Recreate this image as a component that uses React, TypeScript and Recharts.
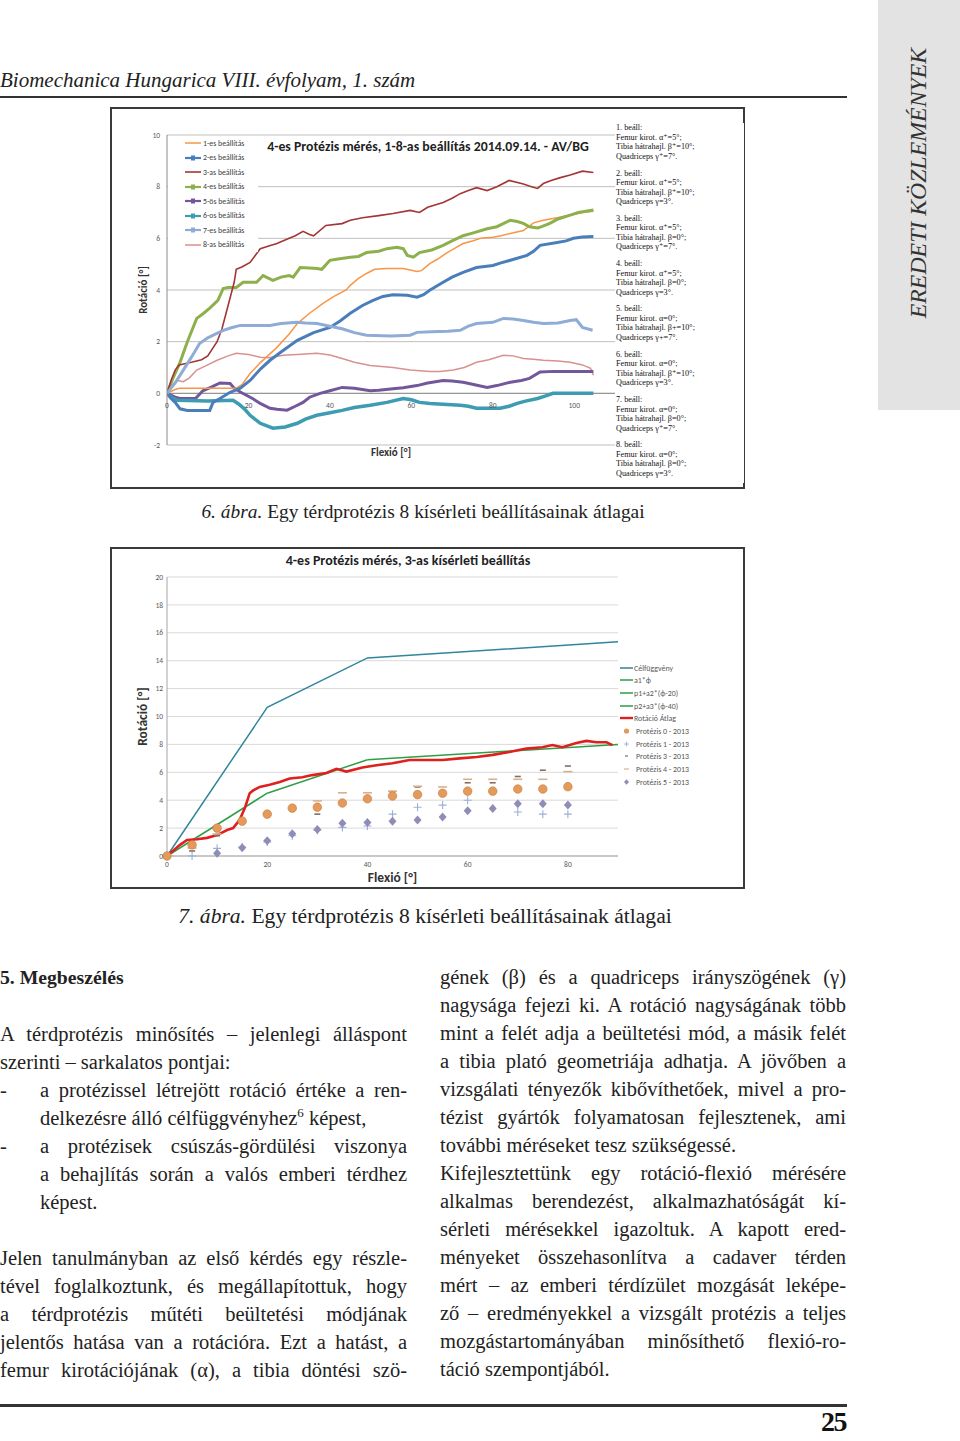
import React from 'react'
import { LineChart, Line, XAxis, YAxis, CartesianGrid, ReferenceLine, ComposedChart, Scatter } from 'recharts'

type Pont = [number, number]

// 6. abra - 8 beallitas atlaga (flexio [°], rotacio [°])
const beall1: Pont[] = [[0,0],[2,0.15],[3,0.2],[10,0.2],[17,0.2],[18.5,0.35],[20.4,0.77],[23,1.2],[27,1.78],[30,2.3],[32,2.7],[35,3.1],[38.3,3.48],[41,3.75],[44,4.0],[45,4.18],[47,4.45],[49,4.64],[51,4.8],[54,4.83],[58,4.83],[61.4,4.72],[62.5,4.75],[64.6,5.03],[66.5,5.2],[68.8,5.45],[70.5,5.6],[72.7,5.8],[75,5.9],[77,6.0],[80,6.04],[82,6.1],[84.3,6.19],[87.5,6.3],[90,6.6],[92.4,6.7],[95.8,6.8],[99,6.9],[102,7.0],[104.7,7.05]]
const beall2: Pont[] = [[0,0],[1,-0.2],[2,-0.35],[3.2,-0.6],[5,-0.66],[10.5,-0.66],[11.3,-0.35],[13,-0.2],[15.5,0.04],[18,0.2],[20.4,0.5],[23,0.95],[25.3,1.28],[28,1.6],[32,2.05],[36,2.35],[40,2.55],[42.5,2.8],[45,3.1],[48,3.4],[50.6,3.6],[53,3.75],[55.5,3.82],[59,3.8],[61.4,3.72],[63,3.82],[64.6,4.0],[67.8,4.3],[70,4.5],[72.7,4.68],[76,4.87],[80,4.95],[82,5.05],[84.3,5.15],[88.4,5.34],[90,5.5],[91.6,5.73],[95.8,5.84],[98,5.9],[99.8,6.0],[102,6.05],[104.7,6.07]]
const beall3: Pont[] = [[0,0],[1,0.5],[2,0.9],[3,1.1],[6,1.2],[8.5,1.3],[10,1.45],[12.3,2.0],[13.5,2.5],[14.5,3.1],[15.5,3.7],[16.5,4.3],[17,4.8],[18.5,4.9],[20.4,5.07],[22.9,5.6],[25,5.7],[27,5.8],[30,6.0],[31.5,6.1],[33.4,6.27],[35,6.15],[36,6.1],[39,6.5],[43,6.57],[45,6.7],[48,6.8],[52,6.88],[55.5,6.96],[59.7,7.08],[62,7.0],[64,7.2],[67.8,7.39],[70,7.55],[72,7.73],[74,7.85],[76,7.96],[78.6,7.85],[81,8.0],[84,8.24],[87.5,8.1],[89.5,8.0],[91,7.93],[92.4,8.12],[94.5,8.25],[96.6,8.35],[99,8.45],[102,8.6],[104.7,8.55]]
const beall4: Pont[] = [[0,0],[1.5,0.6],[3.2,1.2],[5,2.0],[7.3,2.9],[9,3.1],[10.5,3.3],[12.5,3.6],[13.8,4.06],[15,4.1],[17,4.1],[18.7,4.3],[22,4.3],[23.6,4.56],[25,4.45],[26,4.37],[28,4.5],[30,4.56],[31,4.5],[32.7,4.87],[35,4.85],[36.8,4.83],[38,4.8],[40,5.15],[42,5.2],[45,5.27],[47,5.3],[49,5.45],[52,5.5],[54,5.6],[56.5,5.65],[58,5.6],[59,5.34],[60.5,5.27],[62,5.45],[65,5.55],[67.8,5.73],[70,5.9],[72.7,6.1],[75,6.2],[78.6,6.37],[81,6.45],[84.3,6.7],[86,6.65],[87.5,6.58],[89,6.45],[91,6.4],[92,6.45],[94,6.58],[96,6.75],[99,6.9],[101,7.0],[104.7,7.1]]
const beall5: Pont[] = [[0,0],[2,-0.15],[3.2,-0.2],[7,-0.2],[8.8,0.1],[11,0.25],[13,0.4],[15.5,0.38],[16.5,0.2],[18,0.05],[21,-0.2],[23,-0.4],[25.3,-0.58],[27,-0.62],[29.5,-0.65],[31.5,-0.5],[33.4,-0.35],[35,-0.15],[37.6,0.0],[40,0.1],[43,0.23],[46,0.2],[49.9,0.1],[52,0.12],[55.5,0.18],[58,0.22],[61.4,0.3],[64,0.4],[67.8,0.5],[70,0.48],[72.7,0.43],[75,0.35],[78.6,0.23],[81,0.3],[84.3,0.43],[87,0.5],[89,0.58],[91.6,0.83],[95,0.85],[100,0.85],[104.7,0.85]]
const beall6: Pont[] = [[0,0],[1,-0.15],[2.5,-0.27],[10,-0.3],[16.2,-0.27],[17.5,-0.4],[19,-0.6],[20.4,-0.85],[22.9,-1.16],[26,-1.35],[29,-1.3],[32,-1.16],[34,-1.0],[36.8,-0.85],[40,-0.75],[43,-0.66],[46,-0.55],[49.9,-0.46],[54,-0.35],[58,-0.2],[60,-0.25],[62,-0.35],[64.6,-0.39],[72,-0.46],[74,-0.5],[76,-0.58],[81.8,-0.58],[84,-0.5],[86,-0.39],[88,-0.3],[91,-0.2],[93,-0.1],[94.8,0],[104.7,0]]
const beall7: Pont[] = [[0,0],[2,0.4],[4,0.9],[6,1.4],[8,1.93],[10,2.15],[12,2.3],[13.8,2.44],[16,2.55],[18,2.63],[25.3,2.63],[28,2.7],[32,2.75],[34,2.72],[36.8,2.7],[40,2.6],[43,2.5],[46,2.35],[49,2.25],[55,2.22],[59.7,2.25],[61.4,2.36],[65,2.38],[69,2.4],[72,2.44],[74,2.6],[76,2.7],[80,2.75],[82.6,2.9],[85,2.88],[87.5,2.82],[90,2.75],[92.4,2.7],[96,2.72],[99,2.82],[100.5,2.85],[102,2.55],[104.5,2.44]]
const beall8: Pont[] = [[0,0],[1.5,0.35],[2.5,0.5],[4,0.45],[5.5,0.6],[7.3,0.9],[10,1.1],[12.3,1.28],[15,1.45],[17,1.55],[20,1.5],[22.9,1.4],[25,1.38],[28.5,1.47],[32,1.5],[36.8,1.55],[40,1.48],[43,1.35],[46,1.2],[49.9,1.08],[55.5,1.0],[59.7,0.9],[64.6,0.85],[67,0.85],[70.3,0.9],[73,1.0],[76,1.2],[79,1.3],[82.6,1.47],[85,1.45],[87.5,1.35],[90,1.32],[92.4,1.28],[96,1.25],[99,1.2],[102,1.1],[104,0.97],[104.7,0.7]]
const beallitasNevek = ['1-es beállítás', '2-es beállítás', '3-as beállítás', '4-es beállítás', '5-ös beállítás', '6-os beállítás', '7-es beállítás', '8-as beállítás']
const flexioTicks1 = [0, 20, 40, 60, 80, 100]
const rotacioTicks1 = [-2, 0, 2, 4, 6, 8, 10]

// 7. abra - 3-as kiserleti beallitas
const celfuggveny: Pont[] = [[0,0],[20,10.65],[40,14.2],[90,15.35]]
const a1Szakasz: Pont[] = [[0,0],[20,4.5]]
const p1Szakasz: Pont[] = [[20,4.5],[40,6.9]]
const p2Szakasz: Pont[] = [[40,6.9],[90,8.0]]
const rotacioAtlag: Pont[] = [[0,0],[2.6,0.8],[4,1.15],[6,1.2],[8,1.3],[10,1.5],[12,1.86],[13.2,2.0],[14.5,2.6],[15.6,3.5],[16.5,4.5],[17.2,4.7],[18.5,4.95],[20.5,5.1],[22.5,5.3],[24.5,5.55],[27,5.65],[29,5.8],[31.8,5.95],[33.8,6.25],[35.8,6.05],[39,6.35],[41.8,6.5],[45,6.65],[48.4,6.88],[51.8,6.88],[55,6.88],[58.4,7.0],[61.8,7.1],[65,7.25],[68.3,7.45],[71.7,7.7],[74.9,7.8],[76.9,7.95],[78.9,7.8],[81.7,8.1],[83.7,8.25],[85.7,8.15],[87.7,8.15],[88.9,7.95]]
const flexioLepes = [0, 5, 10, 15, 20, 25, 30, 35, 40, 45, 50, 55, 60, 65, 70, 75, 80]
const protezis0 = [0, 0.8, 2.0, 2.5, 3.0, 3.43, 3.5, 3.8, 4.1, 4.3, 4.4, 4.5, 4.65, 4.65, 4.8, 4.8, 4.97]
const protezis1 = [0, 0.0, 0.55, 0.65, 1.0, 1.45, 1.85, 2.05, 2.15, 3.0, 3.5, 3.65, 4.0, null, 3.15, 3.0, 3.0]
const protezis3 = [null, 0.36, 1.45, null, null, null, 3.0, null, null, 4.6, 4.95, null, 5.25, 5.25, 5.7, 6.15, 6.45]
const protezis4 = [null, 0.57, 1.58, null, null, null, 3.95, 4.53, 4.53, 4.65, 5.0, 4.95, 5.5, 5.5, 5.5, 5.5, 6.05]
const protezis5 = [0, null, 0.2, 0.6, 1.1, 1.6, 1.9, 2.35, 2.4, 2.5, 2.58, 2.8, 3.25, 3.4, 3.75, 3.75, 3.65]
const flexioTicks2 = [0, 20, 40, 60, 80]
const rotacioTicks2 = [0, 2, 4, 6, 8, 10, 12, 14, 16, 18, 20]

const pts = (p: Pont[]) => p.map(([x, y]) => ({ x, y }))
const lepesek = (ys: (number | null)[]) =>
  flexioLepes.map((x, i) => ({ x, y: ys[i] })).filter(d => d.y !== null)

const SANS = "Carlito, 'Liberation Sans', Arial, sans-serif"
const SERIF = "'Liberation Serif', 'DejaVu Serif', serif"

const stilus1 = [
  { c: '#F79646', w: 1.5 },
  { c: '#4A7EBB', w: 3 },
  { c: '#A33634', w: 1.6 },
  { c: '#8DB04C', w: 3 },
  { c: '#72589B', w: 3 },
  { c: '#3D9CB2', w: 3.5 },
  { c: '#8EACD6', w: 3 },
  { c: '#D9918F', w: 1.5 },
]
const beallitasok = [beall1, beall2, beall3, beall4, beall5, beall6, beall7, beall8]

// chart 1 geometry
const W1 = 631, H1 = 378
const M1 = { top: 26, right: 128, bottom: 0, left: 25 }
const XH1 = 42
const Y1_MIN = -2, Y1_MAX = 10
const PLOT1_H = H1 - M1.top - XH1
const zeroOffset1 = PLOT1_H * (0 - Y1_MIN) / (Y1_MAX - Y1_MIN)

const FlexTick1 = (props: any) => {
  const { x, y, payload } = props
  return (
    <text x={x} y={y - zeroOffset1 + 13} textAnchor="middle" fontSize={7.5} fill="#595959" fontFamily={SANS}>
      {payload.value}
    </text>
  )
}

const Kor = (p: any) => <circle cx={p.cx} cy={p.cy} r={4.3} fill="#E39A5B" stroke="#C97B3C" strokeWidth={0.6} />
const Plusz = (p: any) => <path d={`M${p.cx - 4},${p.cy}h8M${p.cx},${p.cy - 4}v8`} stroke="#9AB0D6" strokeWidth={1.1} />
const SotetVonal = (p: any) => <line x1={p.cx - 3} x2={p.cx + 3} y1={p.cy} y2={p.cy} stroke="#7F6F66" strokeWidth={1.6} />
const VilagosVonal = (p: any) => <line x1={p.cx - 4.5} x2={p.cx + 4.5} y1={p.cy} y2={p.cy} stroke="#D7B08F" strokeWidth={1.6} />
const Gyemant = (p: any) => <polygon points={`${p.cx},${p.cy - 4.5} ${p.cx + 4},${p.cy} ${p.cx},${p.cy + 4.5} ${p.cx - 4},${p.cy}`} fill="#8F8DB7" />

const legend2 = [
  { n: 'Célfüggvény', t: 'line', c: '#31859C' },
  { n: 'a1*ϕ', t: 'line', c: '#2E9E45' },
  { n: 'p1+a2*(ϕ-20)', t: 'line', c: '#2E9E45' },
  { n: 'p2+a3*(ϕ-40)', t: 'line', c: '#2E9E45' },
  { n: 'Rotáció Átlag', t: 'line', c: '#E0201F' },
  { n: 'Protézis 0 - 2013', t: 'kor', c: '#E39A5B' },
  { n: 'Protézis 1 - 2013', t: 'plusz', c: '#9AB0D6' },
  { n: 'Protézis 3 - 2013', t: 'sotet', c: '#7F6F66' },
  { n: 'Protézis 4 - 2013', t: 'vilagos', c: '#D7B08F' },
  { n: 'Protézis 5 - 2013', t: 'gyemant', c: '#8F8DB7' },
]

const beallSzoveg = [
  ['1. beáll:', 'Femur kirot. α⁺=5°;', 'Tibia hátrahajl. β⁺=10°;', 'Quadriceps γ⁺=7°.'],
  ['2. beáll:', 'Femur kirot. α⁺=5°;', 'Tibia hátrahajl. β⁺=10°;', 'Quadriceps γ=3°.'],
  ['3. beáll:', 'Femur kirot. α⁺=5°;', 'Tibia hátrahajl. β=0°;', 'Quadriceps γ⁺=7°.'],
  ['4. beáll:', 'Femur kirot. α⁺=5°;', 'Tibia hátrahajl. β=0°;', 'Quadriceps γ=3°.'],
  ['5. beáll:', 'Femur kirot. α=0°;', 'Tibia hátrahajl. β+=10°;', 'Quadriceps γ+=7°.'],
  ['6. beáll:', 'Femur kirot. α=0°;', 'Tibia hátrahajl. β⁺=10°;', 'Quadriceps γ=3°.'],
  ['7. beáll:', 'Femur kirot. α=0°;', 'Tibia hátrahajl. β=0°;', 'Quadriceps γ⁺=7°.'],
  ['8. beáll:', 'Femur kirot. α=0°;', 'Tibia hátrahajl. β=0°;', 'Quadriceps γ=3°.'],
]

const abs = (left: number, top: number, extra: React.CSSProperties = {}): React.CSSProperties => ({ position: 'absolute', left, top, ...extra })

const BODY_FS = 20.5

// one printed text line, justified if asked
const Sor = ({ x, y, w, j = true, children }: { x: number, y: number, w: number, j?: boolean, children: React.ReactNode }) => (
  <div style={abs(x, y - 14, { width: w, height: 28, lineHeight: '28px', fontSize: BODY_FS, textAlign: j ? 'justify' : 'left', textAlignLast: j ? 'justify' : 'left', color: '#222' })}>
    {children}
  </div>
)

const Chart1 = () => (
  <LineChart width={W1} height={H1} margin={M1}>
    <CartesianGrid vertical={false} stroke="#BFBFBF" />
    <XAxis dataKey="x" type="number" domain={[0, 110]} ticks={flexioTicks1} axisLine={false} tickLine={false} tickSize={0} height={XH1}
      tick={FlexTick1} allowDataOverflow
      label={{ value: 'Flexió [°]', position: 'insideTop', offset: 3, style: { fontSize: 11, fontWeight: 700, fill: '#333', fontFamily: SANS } }} />
    <YAxis type="number" domain={[Y1_MIN, Y1_MAX]} ticks={rotacioTicks1} width={30} axisLine={{ stroke: '#8C8C8C' }} tickLine={false} tickSize={0} tickMargin={7}
      tick={{ fontSize: 7.5, fill: '#595959', fontFamily: SANS }}
      label={{ value: 'Rotáció [°]', angle: -90, position: 'insideLeft', offset: 6, style: { textAnchor: 'middle', fontSize: 11, fontWeight: 700, fill: '#333', fontFamily: SANS } }} />
    <ReferenceLine y={0} stroke="#8C8C8C" />
    {[7, 4, 5, 0, 1, 3, 2, 6].map(i => (
      <Line key={i} data={pts(beallitasok[i])} dataKey="y" type="linear" stroke={stilus1[i].c} strokeWidth={stilus1[i].w}
        dot={false} isAnimationActive={false} />
    ))}
  </LineChart>
)

const Chart2 = () => (
  <ComposedChart width={631} height={338} margin={{ top: 28, right: 125, bottom: 0, left: 25 }}>
    <CartesianGrid vertical={false} stroke="#D9D9D9" />
    <XAxis dataKey="x" type="number" domain={[0, 90]} ticks={flexioTicks2} height={31} axisLine={{ stroke: '#A6A6A6' }} tickLine={false} tickSize={0} tickMargin={6}
      tick={{ fontSize: 7.5, fill: '#595959', fontFamily: SANS }}
      label={{ value: 'Flexió [°]', position: 'insideBottom', offset: 5, style: { fontSize: 13.5, fontWeight: 700, fill: '#333', fontFamily: SANS } }} />
    <YAxis type="number" domain={[0, 20]} ticks={rotacioTicks2} width={30} axisLine={{ stroke: '#A6A6A6' }} tickLine={false} tickSize={0} tickMargin={4}
      tick={{ fontSize: 7.5, fill: '#595959', fontFamily: SANS }}
      label={{ value: 'Rotáció [°]', angle: -90, position: 'insideLeft', offset: 5, style: { textAnchor: 'middle', fontSize: 13.5, fontWeight: 700, fill: '#333', fontFamily: SANS } }} />
    <Line data={pts(celfuggveny)} dataKey="y" stroke="#31859C" strokeWidth={1.5} dot={false} isAnimationActive={false} />
    <Line data={pts(a1Szakasz)} dataKey="y" stroke="#2E9E45" strokeWidth={1.5} dot={false} isAnimationActive={false} />
    <Line data={pts(p1Szakasz)} dataKey="y" stroke="#2E9E45" strokeWidth={1.5} dot={false} isAnimationActive={false} />
    <Line data={pts(p2Szakasz)} dataKey="y" stroke="#2E9E45" strokeWidth={1.5} dot={false} isAnimationActive={false} />
    <Scatter data={lepesek(protezis3)} dataKey="y" shape={SotetVonal} isAnimationActive={false} />
    <Scatter data={lepesek(protezis4)} dataKey="y" shape={VilagosVonal} isAnimationActive={false} />
    <Scatter data={lepesek(protezis1)} dataKey="y" shape={Plusz} isAnimationActive={false} />
    <Scatter data={lepesek(protezis5)} dataKey="y" shape={Gyemant} isAnimationActive={false} />
    <Scatter data={lepesek(protezis0)} dataKey="y" shape={Kor} isAnimationActive={false} />
    <Line data={pts(rotacioAtlag)} dataKey="y" stroke="#E0201F" strokeWidth={2.6} dot={false} isAnimationActive={false} />
  </ComposedChart>
)

const LegendIkon = ({ t, c }: { t: string, c: string }) => (
  <svg width={13} height={8} style={{ flex: 'none' }}>
    {t === 'line' && <line x1={0} x2={13} y1={4} y2={4} stroke={c} strokeWidth={c === '#E0201F' ? 2.4 : 1.5} />}
    {t === 'kor' && <circle cx={6.5} cy={4} r={2.6} fill={c} />}
    {t === 'plusz' && <path d="M4,4h5M6.5,1.5v5" stroke={c} strokeWidth={0.9} />}
    {t === 'sotet' && <line x1={5} x2={8} y1={4} y2={4} stroke={c} strokeWidth={1.2} />}
    {t === 'vilagos' && <line x1={4} x2={9} y1={4} y2={4} stroke={c} strokeWidth={1.2} />}
    {t === 'gyemant' && <polygon points="6.5,1.3 9,4 6.5,6.7 4,4" fill={c} />}
  </svg>
)

export default function App() {
  return (
    <div style={{ position: 'absolute', left: 0, top: 0, width: 960, height: 1441, background: '#fff', overflow: 'hidden', fontFamily: SERIF, color: '#222' }}>
      {/* side tab */}
      <div style={abs(878, 0, { width: 82, height: 410, background: '#E3E3E3' })} />
      <div style={abs(918 - 170, 183 - 16, { width: 340, height: 32, lineHeight: '32px', textAlign: 'center', fontStyle: 'italic', fontSize: 23.8, transform: 'rotate(-90deg)', color: '#333', whiteSpace: 'nowrap' })}>
        EREDETI KÖZLEMÉNYEK
      </div>

      {/* header */}
      <div style={abs(0, 66, { fontStyle: 'italic', fontSize: 21, lineHeight: '28px', whiteSpace: 'nowrap' })}>
        Biomechanica Hungarica VIII. évfolyam, 1. szám
      </div>
      <div style={abs(0, 96, { width: 847, height: 1.5, background: '#333' })} />

      {/* figure 6 */}
      <div style={abs(110, 107, { width: 635, height: 382, boxSizing: 'border-box', border: '2px solid #3A3A3A' })} />
      <div style={abs(112, 109)}><Chart1 /></div>
      <div style={abs(168, 136, { width: 90, height: 116, background: '#fff' })} />
      {beallitasNevek.map((n, i) => (
        <div key={n} style={abs(185, 143 + i * 14.5 - 5, { height: 10, display: 'flex', alignItems: 'center', fontFamily: SANS, fontSize: 7.8, color: '#404040', whiteSpace: 'nowrap' })}>
          <svg width={16} height={8} style={{ flex: 'none' }}>
            <line x1={0} x2={16} y1={4} y2={4} stroke={stilus1[i].c} strokeWidth={Math.min(stilus1[i].w, 2.2)} />
            {stilus1[i].w > 2 && <rect x={6} y={1.5} width={4} height={5} fill={stilus1[i].c} />}
          </svg>
          <span style={{ marginLeft: 2 }}>{n}</span>
        </div>
      ))}
      <div style={abs(228, 139, { width: 400, textAlign: 'center', fontFamily: SANS, fontWeight: 700, fontSize: 13.8, lineHeight: '16px', color: '#1F1F1F', whiteSpace: 'nowrap' })}>
        4-es Protézis mérés, 1-8-as beállítás 2014.09.14. - AV/BG
      </div>
      <div style={abs(616, 123, { width: 128, height: 360, background: '#fff' })} />
      {beallSzoveg.map((blk, b) => blk.map((s, k) => (
        <div key={`${b}-${k}`} style={abs(616, 128 + b * 45.3 + k * 9.5 - 4.75, { fontSize: 8.2, lineHeight: '9.5px', whiteSpace: 'nowrap', color: '#111' })}>
          {s}
        </div>
      )))}
      <div style={abs(123, 499, { width: 600, textAlign: 'center', fontSize: 19.4, lineHeight: '26px', whiteSpace: 'nowrap' })}>
        <i>6. ábra.</i> Egy térdprotézis 8 kísérleti beállításainak átlagai
      </div>

      {/* figure 7 */}
      <div style={abs(110, 547, { width: 635, height: 342, boxSizing: 'border-box', border: '2px solid #3A3A3A' })} />
      <div style={abs(112, 549)}><Chart2 /></div>
      <div style={abs(208, 553, { width: 400, textAlign: 'center', fontFamily: SANS, fontWeight: 700, fontSize: 14, lineHeight: '16px', color: '#1F1F1F', whiteSpace: 'nowrap' })}>
        4-es Protézis mérés, 3-as kísérleti beállítás
      </div>
      {legend2.map((l, i) => (
        <div key={l.n} style={abs(620, 667.5 + i * 12.7 - 5, { height: 10, display: 'flex', alignItems: 'center', fontFamily: SANS, fontSize: 7.9, color: '#595959', whiteSpace: 'nowrap' })}>
          <LegendIkon t={l.t} c={l.c} />
          <span style={{ marginLeft: l.t === 'line' ? 1 : 3 }}>{l.n}</span>
        </div>
      ))}
      <div style={abs(125, 902, { width: 600, textAlign: 'center', fontSize: 21.6, lineHeight: '28px', whiteSpace: 'nowrap' })}>
        <i>7. ábra.</i> Egy térdprotézis 8 kísérleti beállításainak átlagai
      </div>

      {/* left column */}
      <div style={abs(0, 963, { fontWeight: 700, fontSize: 19.7, lineHeight: '28px' })}>5. Megbeszélés</div>
      <Sor x={0} y={1034} w={407}>A térdprotézis minősítés – jelenlegi álláspont</Sor>
      <Sor x={0} y={1062} w={407} j={false}>szerinti – sarkalatos pontjai:</Sor>
      <Sor x={0} y={1090} w={20} j={false}>-</Sor>
      <Sor x={40} y={1090} w={367}>a protézissel létrejött rotáció értéke a ren-</Sor>
      <Sor x={40} y={1118} w={367} j={false}>delkezésre álló célfüggvényhez<sup style={{ fontSize: 13, lineHeight: 0 }}>6</sup> képest,</Sor>
      <Sor x={0} y={1146} w={20} j={false}>-</Sor>
      <Sor x={40} y={1146} w={367}>a protézisek csúszás-gördülési viszonya</Sor>
      <Sor x={40} y={1174} w={367}>a behajlítás során a valós emberi térdhez</Sor>
      <Sor x={40} y={1202} w={367} j={false}>képest.</Sor>
      <Sor x={0} y={1258} w={407}>Jelen tanulmányban az első kérdés egy részle-</Sor>
      <Sor x={0} y={1286} w={407}>tével foglalkoztunk, és megállapítottuk, hogy</Sor>
      <Sor x={0} y={1314} w={407}>a térdprotézis műtéti beültetési módjának</Sor>
      <Sor x={0} y={1342} w={407}>jelentős hatása van a rotációra. Ezt a hatást, a</Sor>
      <Sor x={0} y={1370} w={407}>femur kirotációjának (α), a tibia döntési szö-</Sor>

      {/* right column */}
      <Sor x={440} y={977} w={406}>gének (β) és a quadriceps irányszögének (γ)</Sor>
      <Sor x={440} y={1005} w={406}>nagysága fejezi ki. A rotáció nagyságának több</Sor>
      <Sor x={440} y={1033} w={406}>mint a felét adja a beültetési mód, a másik felét</Sor>
      <Sor x={440} y={1061} w={406}>a tibia plató geometriája adhatja. A jövőben a</Sor>
      <Sor x={440} y={1089} w={406}>vizsgálati tényezők kibővíthetőek, mivel a pro-</Sor>
      <Sor x={440} y={1117} w={406}>tézist gyártók folyamatosan fejlesztenek, ami</Sor>
      <Sor x={440} y={1145} w={406} j={false}>további méréseket tesz szükségessé.</Sor>
      <Sor x={440} y={1173} w={406}>Kifejlesztettünk egy rotáció-flexió mérésére</Sor>
      <Sor x={440} y={1201} w={406}>alkalmas berendezést, alkalmazhatóságát kí-</Sor>
      <Sor x={440} y={1229} w={406}>sérleti mérésekkel igazoltuk. A kapott ered-</Sor>
      <Sor x={440} y={1257} w={406}>ményeket összehasonlítva a cadaver térden</Sor>
      <Sor x={440} y={1285} w={406}>mért – az emberi térdízület mozgását leképe-</Sor>
      <Sor x={440} y={1313} w={406}>ző – eredményekkel a vizsgált protézis a teljes</Sor>
      <Sor x={440} y={1341} w={406}>mozgástartományában minősíthető flexió-ro-</Sor>
      <Sor x={440} y={1369} w={406} j={false}>táció szempontjából.</Sor>

      {/* footer */}
      <div style={abs(0, 1404, { width: 847, height: 2.5, background: '#333' })} />
      <div style={abs(746, 1406, { width: 100, textAlign: 'right', fontWeight: 700, fontSize: 28, lineHeight: '32px', letterSpacing: -1.5, color: '#111' })}>25</div>
    </div>
  )
}
